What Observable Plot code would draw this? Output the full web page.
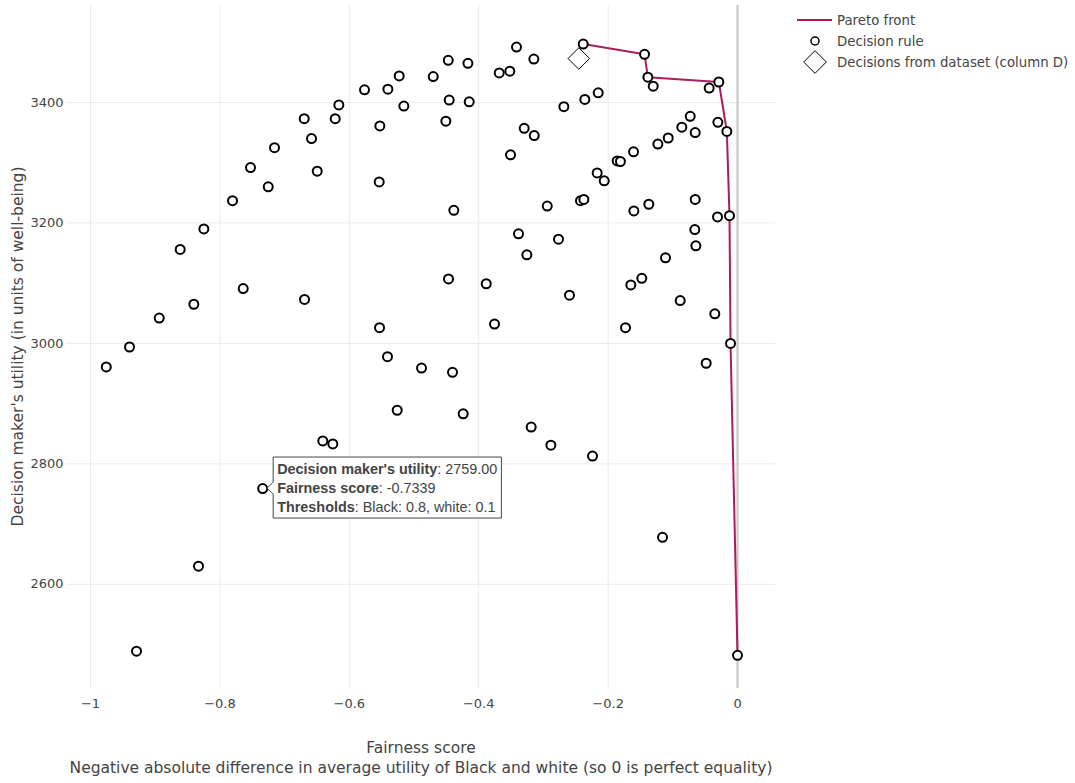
<!DOCTYPE html>
<html>
<head>
<meta charset="utf-8">
<script src="https://cdn.jsdelivr.net/npm/d3@7"></script>
<script src="https://cdn.jsdelivr.net/npm/@observablehq/plot@0.6"></script>
<style>
  html, body { margin: 0; padding: 0; background: #fff; }
  #chart { position: relative; width: 1075px; height: 783px; }
</style>
</head>
<body>
<div id="chart"></div>
<script>
// ---- Data ----
const paretoFairness = [-0.2385, -0.1437, -0.1386, -0.0289, -0.0165, -0.0124, -0.0108, 0.0];
const paretoUtility  = [3497, 3480, 3442, 3434, 3352, 3212, 3000, 2482];

const ruleFairness = [
  -0.2385, -0.1437, -0.1386, -0.0289, -0.0165, -0.0124, -0.0108, 0.0,
  -0.3148, -0.1303, -0.0438, -0.2684, -0.2360, -0.2153, -0.3297, -0.3142,
  -0.0731, -0.0861, -0.0654, -0.0304, -0.1071, -0.1231, -0.1607, -0.2169,
  -0.2060, -0.1860, -0.1810, -0.2427, -0.2375, -0.1602, -0.1371, -0.0654,
  -0.0309, -0.0660, -0.0644, -0.1113, -0.1479, -0.1649, -0.0886, -0.0351,
  -0.1731, -0.0484, -0.3416, -0.4471, -0.4167, -0.3683, -0.3519, -0.5229,
  -0.4703, -0.5765, -0.5404, -0.4456, -0.4147, -0.6162, -0.5157, -0.6697,
  -0.6218, -0.5528, -0.4508, -0.6584, -0.7156, -0.7527, -0.6496, -0.7253,
  -0.5538, -0.7805, -0.4385, -0.3508, -0.8248, -0.8614, -0.9756, -0.9397,
  -0.8938, -0.8403, -0.7640, -0.6692, -0.2941, -0.3385, -0.2767, -0.3256,
  -0.4467, -0.3884, -0.3756, -0.5533, -0.5410, -0.4884, -0.4405, -0.5260,
  -0.4240, -0.3189, -0.2885, -0.6410, -0.6255, -0.2241, -0.7339, -0.8331,
  -0.9289, -0.1159, -0.2597
];
const ruleUtility = [
  3497, 3480, 3442, 3434, 3352, 3212, 3000, 2482,
  3472, 3427, 3424, 3393, 3405, 3416, 3357, 3345,
  3377, 3359, 3350, 3367, 3341, 3331, 3318, 3283,
  3270, 3303, 3302, 3237, 3239, 3220, 3231, 3239,
  3210, 3189, 3162, 3142, 3108, 3097, 3071, 3049,
  3026, 2967, 3492, 3470, 3465, 3449, 3452, 3444,
  3443, 3421, 3422, 3404, 3401, 3396, 3394, 3373,
  3373, 3361, 3369, 3340, 3325, 3292, 3286, 3260,
  3268, 3237, 3221, 3313, 3190, 3156, 2961, 2994,
  3042, 3065, 3091, 3073, 3228, 3182, 3173, 3147,
  3107, 3099, 3032, 3026, 2978, 2959, 2952, 2889,
  2883, 2861, 2831, 2838, 2833, 2813, 2759, 2630,
  2489, 2678, 3080
];

const datasetFairness = [-0.2453];
const datasetUtility  = [3473];

const xTicks = [-1, -0.8, -0.6, -0.4, -0.2, 0];
const yTicks = [2600, 2800, 3000, 3200, 3400];

const legendLabels = ["Pareto front", "Decision rule", "Decisions from dataset (column D)"];
const xTitle = "Fairness score";
const xSubtitle = "Negative absolute difference in average utility of Black and white (so 0 is perfect equality)";
const yTitle = "Decision maker's utility (in units of well-being)";

const tipFairness = -0.7339;
const tipUtility = 2759;
const tipLines = [
  ["Decision maker's utility", ": 2759.00"],
  ["Fairness score", ": -0.7339"],
  ["Thresholds", ": Black: 0.8, white: 0.1"]
];

// ---- Tables ----
const pareto = paretoFairness.map((f, i) => ({f, u: paretoUtility[i]}));
const rules = ruleFairness.map((f, i) => ({f, u: ruleUtility[i]}));
const dataset = datasetFairness.map((f, i) => ({f, u: datasetUtility[i]}));

const paretoColor = "#ab1b5e";
const fmt = d3.format("~g");
const FONT = "'DejaVu Sans', Verdana, sans-serif";

const plot = Plot.plot({
  width: 1075,
  height: 783,
  marginLeft: 66,
  marginRight: 300,
  marginTop: 5,
  marginBottom: 95,
  style: {fontFamily: FONT, fontSize: "13px", color: "#444", background: "#fff"},
  x: {domain: [-1.0371, 0.0587], label: null},
  y: {domain: [2427, 3561], label: null},
  marks: [
    Plot.gridX(xTicks.filter(d => d !== 0), {stroke: "#ebebeb", strokeOpacity: 1, strokeWidth: 1}),
    Plot.gridY(yTicks, {stroke: "#ebebeb", strokeOpacity: 1, strokeWidth: 1}),
    Plot.ruleX([0], {stroke: "#c4c4c4", strokeWidth: 2}),
    Plot.axisX(xTicks, {tickSize: 0, tickPadding: 10, tickFormat: fmt, label: null, fill: "#444", fontSize: 13}),
    Plot.axisY(yTicks, {tickSize: 0, tickPadding: 3, tickFormat: d => String(d), label: null, fill: "#444", fontSize: 13}),
    Plot.line(pareto, {x: "f", y: "u", stroke: paretoColor, strokeWidth: 2}),
    Plot.dot(rules, {x: "f", y: "u", r: 4.5, fill: "white", stroke: "black", strokeWidth: 2}),
    Plot.dot(dataset, {x: "f", y: "u", symbol: "diamond2", r: 9.7, fill: "white", stroke: "black", strokeWidth: 1})
  ]
});

document.getElementById("chart").appendChild(plot);

const svg = d3.select(plot);
const sx = plot.scale("x"), sy = plot.scale("y");
const x0 = 66, x1 = 1075 - 300, y0 = 5, y1 = 783 - 95;
const cx = 421;

// Axis titles
svg.append("text").attr("x", cx).attr("y", 748).attr("text-anchor", "middle")
  .attr("dominant-baseline", "central").attr("fill", "#444")
  .style("font", `15.5px ${FONT}`).text(xTitle);
svg.append("text").attr("x", cx).attr("y", 768).attr("text-anchor", "middle")
  .attr("dominant-baseline", "central").attr("fill", "#444")
  .style("font", `15.5px ${FONT}`).text(xSubtitle);
svg.append("text").attr("transform", `translate(18,${(y0 + y1) / 2}) rotate(-90)`)
  .attr("text-anchor", "middle").attr("dominant-baseline", "central").attr("fill", "#444")
  .style("font", `15.5px ${FONT}`).text(yTitle);

// Legend
const lg = svg.append("g").style("font", `13.3px ${FONT}`).attr("fill", "#444");
lg.append("line").attr("x1", 797).attr("x2", 832).attr("y1", 20).attr("y2", 20)
  .attr("stroke", paretoColor).attr("stroke-width", 2);
lg.append("circle").attr("cx", 815).attr("cy", 41).attr("r", 4).attr("fill", "white")
  .attr("stroke", "black").attr("stroke-width", 1.5);
lg.append("path").attr("d", d3.symbol(d3.symbolDiamond2, Math.PI * 10.2 * 10.2)())
  .attr("transform", "translate(815,62)").attr("fill", "white").attr("stroke", "black").attr("stroke-width", 1);
[20, 41, 62].forEach((yy, i) => {
  lg.append("text").attr("x", 837).attr("y", yy).attr("text-anchor", "start")
    .attr("dominant-baseline", "central").text(legendLabels[i]);
});

// Hover label annotation
const px = sx.apply(tipFairness), py = sy.apply(tipUtility);
const tg = svg.append("g");
const box = tg.append("path");
const tx = px + 15, lineH = 19;
const texts = tipLines.map(([b, r], i) => {
  const t = tg.append("text").attr("x", tx).attr("y", py - lineH + i * lineH)
    .attr("text-anchor", "start")
    .attr("dominant-baseline", "central").attr("fill", "#444")
    .style("font", "14.4px 'Liberation Sans', Arial, sans-serif");
  t.append("tspan").attr("font-weight", "bold").text(b);
  t.append("tspan").text(r);
  return t;
});
const w = d3.max(texts, t => t.node().getComputedTextLength());
const bl = px + 11, br = tx + w + 4, bt = py - 31, bb = py + 30, tip = px + 5;
box.attr("d", `M${tip},${py}L${bl},${py - 6}V${bt}H${br}V${bb}H${bl}V${py + 6}Z`)
  .attr("fill", "white").attr("stroke", "#444").attr("stroke-width", 1);
</script>
</body>
</html>
